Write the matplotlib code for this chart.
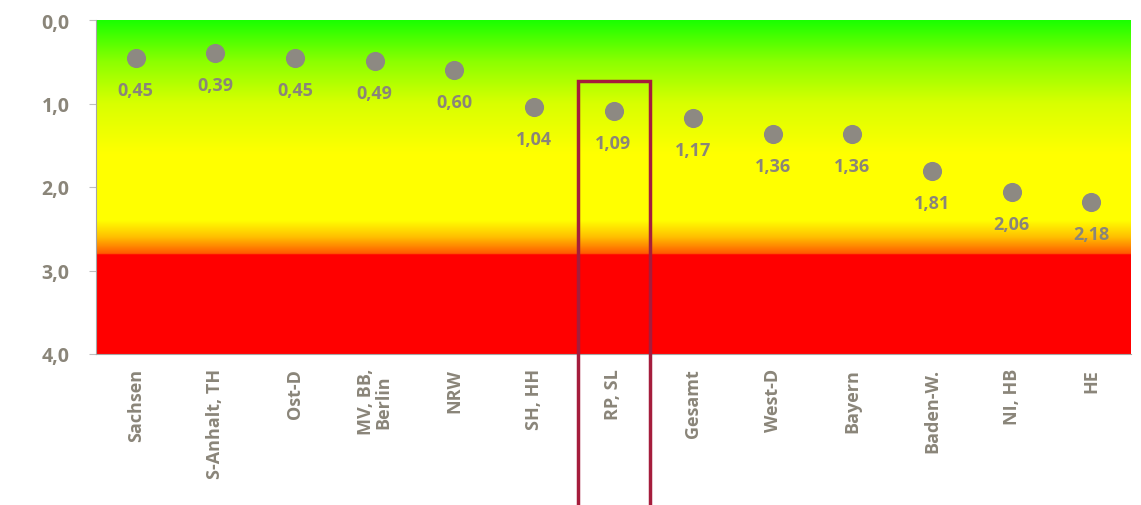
import numpy as np
import matplotlib.pyplot as plt
from matplotlib.colors import LinearSegmentedColormap
from matplotlib.patches import Rectangle

# data
regions = ['Sachsen', 'S-Anhalt, TH', 'Ost-D', 'MV, BB,\nBerlin', 'NRW', 'SH, HH',
           'RP, SL', 'Gesamt', 'West-D', 'Bayern', 'Baden-W.', 'NI, HB', 'HE']
values = [0.45, 0.39, 0.45, 0.49, 0.60, 1.04, 1.09, 1.17, 1.36, 1.36, 1.81, 2.06, 2.18]
yticks = [0, 1, 2, 3, 4]

txt = '#8a8579'
plt.rcParams['font.family'] = ['Open Sans', 'DejaVu Sans']

fig = plt.figure(figsize=(11.41, 5.06), dpi=100)
ax = fig.add_axes([96/1141, 1-355/506, 1035/1141, 334/506])

# background gradient green -> yellow -> red
stops = [(0.0, (0.10, 1, 0)), (0.5/4, (0.55, 1, 0)), (1.0/4, (0.85, 1, 0)),
         (1.6/4, (1, 1, 0)), (2.4/4, (1, 1, 0)), (2.6/4, (1, 0.75, 0)),
         (2.8/4, (1, 0.35, 0)), (2.81/4, (1, 0, 0)), (1.0, (1, 0, 0))]
cmap = LinearSegmentedColormap.from_list('bg', stops, N=1024)
grad = np.linspace(0, 1, 1000).reshape(-1, 1)
ax.imshow(grad, cmap=cmap, aspect='auto', extent=[-0.5, len(regions)-0.5, 4, 0],
          interpolation='bilinear', zorder=0)

x = np.arange(len(regions))
ax.scatter(x, values, s=190, color='#8d8982', zorder=3, linewidths=0)
for xi, v in zip(x, values):
    ax.annotate(f'{v:.2f}'.replace('.', ','), (xi, v), xytext=(0, -32),
                textcoords='offset pixels', ha='center', va='center',
                fontsize=13, fontweight='bold', color=txt, zorder=4)

ax.set_xlim(-0.5, len(regions)-0.5)
ax.set_ylim(4, 0)
ax.set_yticks(yticks)
ax.set_yticklabels([f'{t:.1f}'.replace('.', ',') for t in yticks],
                   fontsize=14, fontweight='bold', color=txt)
ax.set_xticks(x)
ax.set_xticklabels(regions, rotation=90, fontsize=13, fontweight='bold',
                   color=txt, ha='center', va='top', linespacing=1.0)
ax.tick_params(axis='x', length=0, pad=10)
ax.tick_params(axis='y', length=5, color='#bfbfbf', pad=14)
for s in ['top', 'right']:
    ax.spines[s].set_visible(False)
ax.spines['left'].set_color('#a6a6a6')
ax.spines['bottom'].set_color('#a6a6a6')

# highlight box around RP, SL
fig.add_artist(Rectangle((578/1141, -0.05), 72/1141, 1.05 - 82/506,
                         transform=fig.transFigure, fill=False,
                         edgecolor='#a51d3c', linewidth=2.5, clip_on=False, zorder=5))

fig.savefig('out.png', dpi=100)
